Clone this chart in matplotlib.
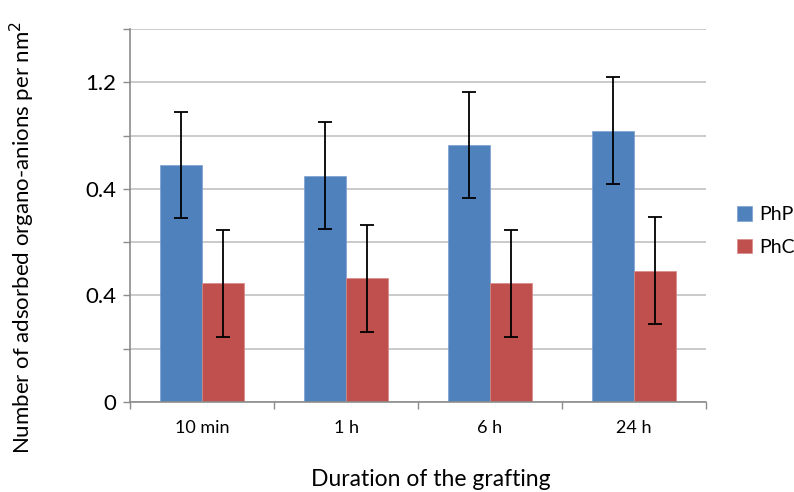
import matplotlib
matplotlib.use("Agg")
import matplotlib.pyplot as plt
import numpy as np

categories = ["10 min", "1 h", "6 h", "24 h"]
php_values = [0.89, 0.85, 0.965, 1.018]
php_errors = [0.2, 0.2, 0.2, 0.2]
phc_values = [0.445, 0.464, 0.445, 0.493]
phc_errors = [0.2, 0.2, 0.2, 0.2]
ytick_values = [0, 0.4, 0.8, 1.2]
ytick_labels = ["0", "0.4", "0.4", "1.2"]

plt.rcParams['font.family'] = ['Lato', 'DejaVu Sans']

fig = plt.figure(figsize=(7.94, 4.92), dpi=100)
ax = fig.add_axes([130/794, 1-402/492, 576/794, 373/492])

x = np.arange(len(categories))
w = 0.29
blue = "#4f81bd"
red = "#c0504d"
ax.bar(x - w/2, php_values, w, color=blue, label="PhP", zorder=2,
       edgecolor="#7aa0d0", linewidth=0.5)
ax.bar(x + w/2, phc_values, w, color=red, label="PhC", zorder=2,
       edgecolor="#d88a88", linewidth=0.5)
ax.errorbar(x - w/2, php_values, yerr=php_errors, fmt="none", ecolor="black",
            elinewidth=1.3, capsize=5, capthick=1.3, zorder=3)
ax.errorbar(x + w/2, phc_values, yerr=phc_errors, fmt="none", ecolor="black",
            elinewidth=1.3, capsize=5, capthick=1.3, zorder=3)

ax.set_xlim(-0.5, len(categories) - 0.5)
ax.set_ylim(0, 1.4)
grid_ticks = [round(t, 1) for t in np.arange(0, 1.41, 0.2)]
ax.set_yticks(grid_ticks)
labels = []
for v in grid_ticks:
    lab = ""
    for tv, tl in zip(ytick_values, ytick_labels):
        if abs(v - tv) < 1e-6:
            lab = tl
    labels.append(lab)
ax.set_yticklabels(labels)
ax.yaxis.grid(True, color="#c6c6c6", linewidth=1.3, zorder=0)
ax.set_axisbelow(True)

ax.set_xticks(x)
ax.set_xticklabels(categories, fontsize=13)
ax.set_xticks(np.arange(-0.5, len(categories), 1.0), minor=True)
ax.tick_params(axis="x", which="major", length=0, pad=13)
ax.tick_params(axis="x", which="minor", length=5, color="#8c8c8c", width=1)
ax.tick_params(axis="y", length=5, color="#8c8c8c", width=1, labelsize=16, pad=5)

for s in ["top", "right"]:
    ax.spines[s].set_visible(False)
for s in ["left", "bottom"]:
    ax.spines[s].set_color("#8c8c8c")
    ax.spines[s].set_linewidth(1.2)

fig.text(22/794, 1-237/492, "Number of adsorbed organo-anions per nm$^2$",
         rotation=90, ha="center", va="center", fontsize=16)
fig.text(431/794, 1-480/492, "Duration of the grafting", ha="center",
         va="center", fontsize=16.5)

leg = fig.legend(loc="center left", bbox_to_anchor=(737/794, 1-231/492),
                 frameon=False, fontsize=14, handlelength=0.75, handleheight=0.75,
                 labelspacing=0.8, handletextpad=0.4, borderpad=0, borderaxespad=0)

fig.savefig("out.png", dpi=100)
